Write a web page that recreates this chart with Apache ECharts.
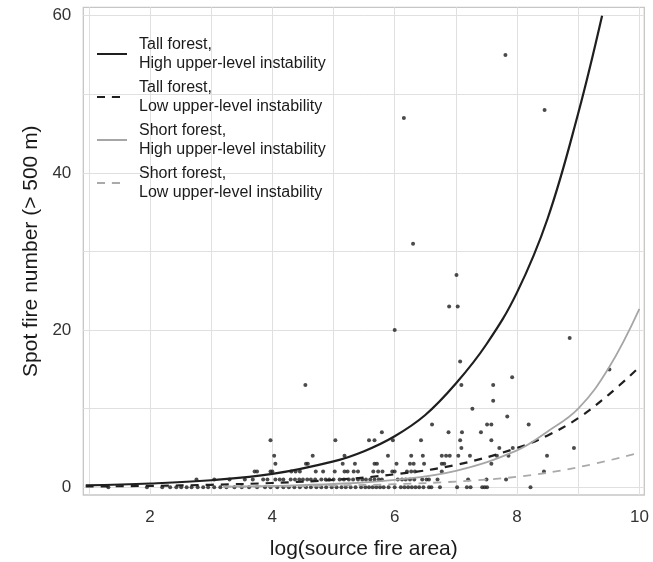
<!DOCTYPE html>
<html>
<head>
<meta charset="utf-8">
<script src="https://cdn.jsdelivr.net/npm/echarts@6/dist/echarts.min.js"></script>
<style>
  html, body { margin: 0; padding: 0; background: #fff; }
  #chart { width: 653px; height: 562px; }
</style>
</head>
<body>
<div id="chart"></div>
<script>
// observed spot fire counts: x positions (log source fire area) per count level
const zeroSpot = [1.32, 1.95, 2.2, 2.33, 2.43, 2.51, 2.6, 2.68, 2.78, 2.87, 2.95, 3.05, 3.15, 3.25, 3.38, 3.5, 3.62, 3.75,
  3.88, 3.97, 4.08, 4.18, 4.27, 4.36, 4.45, 4.55, 4.63, 4.72, 4.8, 4.88, 4.97, 5.05, 5.13, 5.2, 5.28, 5.36, 5.45, 5.52,
  5.58, 5.64, 5.7, 5.76, 5.82, 5.9, 6.0, 6.1, 6.16, 6.22, 6.28, 6.34, 6.4, 6.47, 6.56, 6.6, 6.74, 7.02, 7.18, 7.24,
  7.43, 7.47, 7.51, 8.22];
const oneSpot = [2.76, 3.05, 3.3, 3.55, 3.68, 3.85, 3.92, 4.05, 4.12, 4.18, 4.3, 4.37, 4.44, 4.5, 4.57, 4.63, 4.7, 4.8,
  4.87, 4.93, 5.0, 5.1, 5.17, 5.25, 5.32, 5.4, 5.47, 5.53, 5.6, 5.67, 5.74, 5.79, 6.05, 6.12, 6.18, 6.25, 6.32, 6.45,
  6.52, 6.56, 6.7, 7.2, 7.5, 7.82];
const twoSpot = [3.71, 3.75, 3.97, 4.0, 4.31, 4.38, 4.45, 4.71, 4.83, 5.02, 5.18, 5.23, 5.33, 5.4, 5.65, 5.73, 5.8,
  5.96, 6.0, 6.2, 6.27, 6.33, 6.77, 8.44];
const threeSpot = [4.05, 4.55, 4.58, 5.15, 5.35, 5.67, 5.71, 6.03, 6.25, 6.31, 6.48, 6.77, 6.81, 7.58];
const fourSpot = [4.03, 4.66, 5.18, 5.89, 6.27, 6.46, 6.77, 6.84, 6.9, 7.04, 7.23, 7.67, 7.86, 8.49];
const fiveSpot = [7.09, 7.71, 7.93, 8.93];
const sixSpot = [3.97, 5.03, 5.58, 5.67, 5.97, 6.43, 7.07, 7.58];
const sevenSpot = [5.79, 6.88, 7.1, 7.41];
const higherSpot = [[6.61, 8], [7.51, 8], [7.58, 8], [8.19, 8], [7.84, 9], [7.27, 10], [7.61, 11], [4.54, 13],
  [7.09, 13], [7.61, 13], [7.92, 14], [9.51, 15], [7.07, 16], [8.86, 19], [6.0, 20], [6.89, 23], [7.03, 23],
  [7.01, 27], [6.3, 31], [6.15, 47], [8.45, 48], [7.81, 55]];

// fitted curves
const tallHigh = [[0.95, 0.25], [2, 0.48], [3, 0.9], [4, 1.7], [5, 3.3], [5.5, 4.6], [6, 6.5], [6.5, 9.2],
  [7, 13.2], [7.5, 18.2], [8, 24.8], [8.5, 34.2], [9, 47.6], [9.39, 60]];
const tallLow = [[0.95, 0.1], [2, 0.18], [3, 0.32], [4, 0.55], [5, 0.95], [6, 1.65], [7, 2.85], [8, 5.0],
  [8.5, 6.6], [9, 8.8], [9.5, 11.8], [10, 15.3]];
const shortHigh = [[3.2, 0.08], [4, 0.18], [5, 0.42], [6, 0.95], [7, 2.1], [8, 4.7], [8.5, 7.1], [9, 10],
  [9.5, 15.2], [10, 22.7]];
const shortLow = [[3.2, 0.07], [4, 0.12], [5, 0.22], [6, 0.4], [7, 0.73], [8, 1.34], [9, 2.55], [10, 4.4]];

const xGrid = [1, 2, 3, 4, 5, 6, 7, 8, 9, 10];
const xLabels = [2, 4, 6, 8, 10];
const yGrid = [0, 10, 20, 30, 40, 50, 60];
const yLabels = [0, 20, 40, 60];

const seriesNames = [
  'Tall forest,\nHigh upper-level instability',
  'Tall forest,\nLow upper-level instability',
  'Short forest,\nHigh upper-level instability',
  'Short forest,\nLow upper-level instability'
];

const spotRows = [zeroSpot, oneSpot, twoSpot, threeSpot, fourSpot, fiveSpot, sixSpot, sevenSpot];
const spotData = spotRows.flatMap((xs, count) => xs.map(x => [x, count])).concat(higherSpot);

const font = '"Liberation Sans", Arial, Helvetica, sans-serif';
const chart = echarts.init(document.getElementById('chart'));

const fitLine = (name, data, color, width, dashed) => ({
  name: name,
  type: 'line',
  data: data,
  smooth: 0.4,
  symbol: 'none',
  showSymbol: false,
  z: 3,
  lineStyle: { color: color, width: width, type: dashed ? [8, 7] : 'solid' },
  itemStyle: { color: color }
});

chart.setOption({
  animation: false,
  backgroundColor: '#fff',
  textStyle: { fontFamily: font },
  grid: {
    left: 83.3, right: 8.7, top: 7.3, bottom: 67,
    show: true, borderColor: '#c6c6c6', borderWidth: 1.3,
    outerBoundsMode: 'none'
  },
  legend: {
    data: seriesNames,
    orient: 'vertical',
    left: 96, top: 35,
    padding: 0,
    // tiny item height keeps the legend key a plain line
    itemWidth: 30, itemHeight: 1,
    itemGap: 5,
    textStyle: { fontSize: 16, lineHeight: 19, color: '#1a1a1a', fontFamily: font, padding: [0, 0, 0, 7] }
  },
  xAxis: {
    type: 'value',
    min: 0.91, max: 10.08,
    name: 'log(source fire area)',
    nameLocation: 'middle',
    nameGap: 44,
    nameTextStyle: { fontSize: 21, color: '#1a1a1a', fontFamily: font },
    axisLine: { show: false },
    axisTick: { show: false, customValues: xGrid },
    axisLabel: { customValues: xLabels, fontSize: 17, color: '#333', margin: 14, fontFamily: font },
    splitLine: { show: true, lineStyle: { color: '#e0e0e0', width: 1 } }
  },
  yAxis: {
    type: 'value',
    min: -0.98, max: 61.07,
    name: 'Spot fire number (> 500 m)',
    nameLocation: 'middle',
    nameGap: 41,
    nameRotate: 90,
    nameTextStyle: { fontSize: 21, color: '#1a1a1a', fontFamily: font },
    axisLine: { show: false },
    axisTick: { show: false, customValues: yGrid },
    axisLabel: { customValues: yLabels, fontSize: 17, color: '#333', margin: 12, fontFamily: font },
    splitLine: { show: true, lineStyle: { color: '#e0e0e0', width: 1 } }
  },
  series: [
    {
      type: 'scatter',
      data: spotData,
      symbolSize: 4,
      z: 2,
      itemStyle: { color: '#1e1e1e' }
    },
    fitLine(seriesNames[0], tallHigh, '#1f1f1f', 2.2, false),
    fitLine(seriesNames[1], tallLow, '#1f1f1f', 2.2, true),
    fitLine(seriesNames[2], shortHigh, '#a6a6a6', 1.8, false),
    fitLine(seriesNames[3], shortLow, '#aaaaaa', 1.8, true)
  ]
});
</script>
</body>
</html>
